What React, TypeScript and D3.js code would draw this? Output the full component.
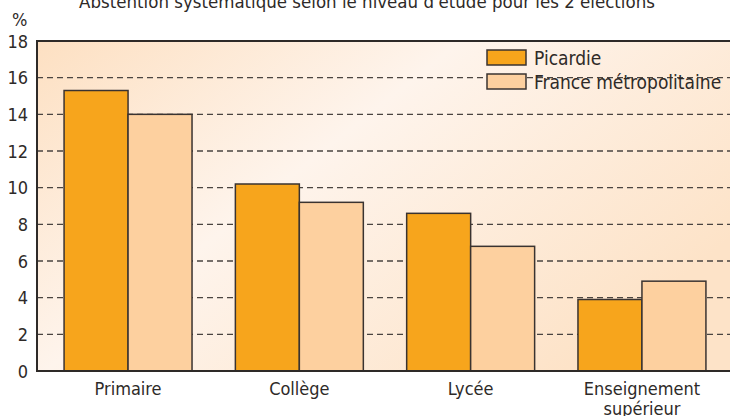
import * as d3 from "d3";

const categories = ["Primaire", "Collège", "Lycée", "Enseignement\nsupérieur"];
const series = ["Picardie", "France métropolitaine"];
const picardie = [15.3, 10.2, 8.6, 3.9];
const france = [14.0, 9.2, 6.8, 4.9];
const yTicks = [0, 2, 4, 6, 8, 10, 12, 14, 16, 18];
const colors = ["#f7a51c", "#fdd09f"];

const W = 730;
const H = 416;
const FONT = "'Liberation Sans Narrow', 'DejaVu Sans Condensed', 'Roboto Condensed', sans-serif";

export default function App() {
	const left = 37;
	const top = 41;
	const bottom = 371;

	const y = d3.scaleLinear().domain([0, 18]).range([bottom, top]);
	const x0 = d3
		.scaleBand<string>()
		.domain(categories)
		.range([left, 733])
		.paddingInner(0.253)
		.paddingOuter(0.158);
	const x1 = d3.scaleBand<string>().domain(series).range([0, x0.bandwidth()]);

	const values = [picardie, france];

	return (
		<div style={{ position: "absolute", left: 0, top: 0 }}>
			<svg width={W} height={H} style={{ display: "block", fontFamily: FONT }}>
				<defs>
					<linearGradient id="bg" x1="0" y1="0" x2="1" y2="0.6">
						<stop offset="0" stopColor="#fde0c2" />
						<stop offset="0.45" stopColor="#fef4ec" />
						<stop offset="1" stopColor="#fde3c8" />
					</linearGradient>
				</defs>
				<rect width={W} height={H} fill="#ffffff" />
				<rect x={left} y={top} width={W - left} height={bottom - top} fill="url(#bg)" />

				{/* grid */}
				{yTicks
					.filter((t) => t > 0 && t < 18)
					.map((t) => (
						<line
							key={t}
							x1={left}
							x2={W}
							y1={y(t)}
							y2={y(t)}
							stroke="#4a4440"
							strokeWidth={1.3}
							strokeDasharray="6,4"
						/>
					))}

				{/* bars */}
				{categories.map((c, i) => (
					<g key={c} transform={`translate(${x0(c)},0)`}>
						{series.map((s, j) => (
							<rect
								key={s}
								x={x1(s)}
								y={y(values[j][i])}
								width={x1.bandwidth()}
								height={y(0) - y(values[j][i])}
								fill={colors[j]}
								stroke="#3a3330"
								strokeWidth={1.5}
							/>
						))}
					</g>
				))}

				{/* axes */}
				<line x1={left} x2={W} y1={top} y2={top} stroke="#2e2a28" strokeWidth={2} />
				<line x1={left} x2={left} y1={top - 1} y2={bottom + 1} stroke="#2e2a28" strokeWidth={2} />
				<line x1={left - 1} x2={W} y1={bottom} y2={bottom} stroke="#2e2a28" strokeWidth={2} />

				{yTicks.map((t) => (
					<text
						key={t}
						x={28}
						y={y(t)}
						dy="0.37em"
						textAnchor="end"
						fontSize={18}
						fill="#2e2a28"
					>
						{t}
					</text>
				))}
				<text x={12} y={26} fontSize={18} fill="#2e2a28">
					%
				</text>

				{categories.map((c) => (
					<text
						key={c}
						x={(x0(c) ?? 0) + x0.bandwidth() / 2}
						y={395}
						textAnchor="middle"
						fontSize={18}
						fill="#2e2a28"
					>
						{c.split("\n").map((line, k) => (
							<tspan key={k} x={(x0(c) ?? 0) + x0.bandwidth() / 2} dy={k === 0 ? 0 : 20}>
								{line}
							</tspan>
						))}
					</text>
				))}

				{/* title */}
				<text x={367} y={8} textAnchor="middle" fontSize={18.5} fill="#2e2a28">
					Abstention systématique selon le niveau d'étude pour les 2 élections
				</text>

				{/* legend */}
				{series.map((s, j) => (
					<g key={s} transform={`translate(487,${50 + j * 24})`}>
						<rect width={39} height={15} fill={colors[j]} stroke="#3a3330" strokeWidth={1.5} />
						<text x={47} y={7.5} dy="0.37em" fontSize={19} fill="#2e2a28">
							{s}
						</text>
					</g>
				))}
			</svg>
		</div>
	);
}
